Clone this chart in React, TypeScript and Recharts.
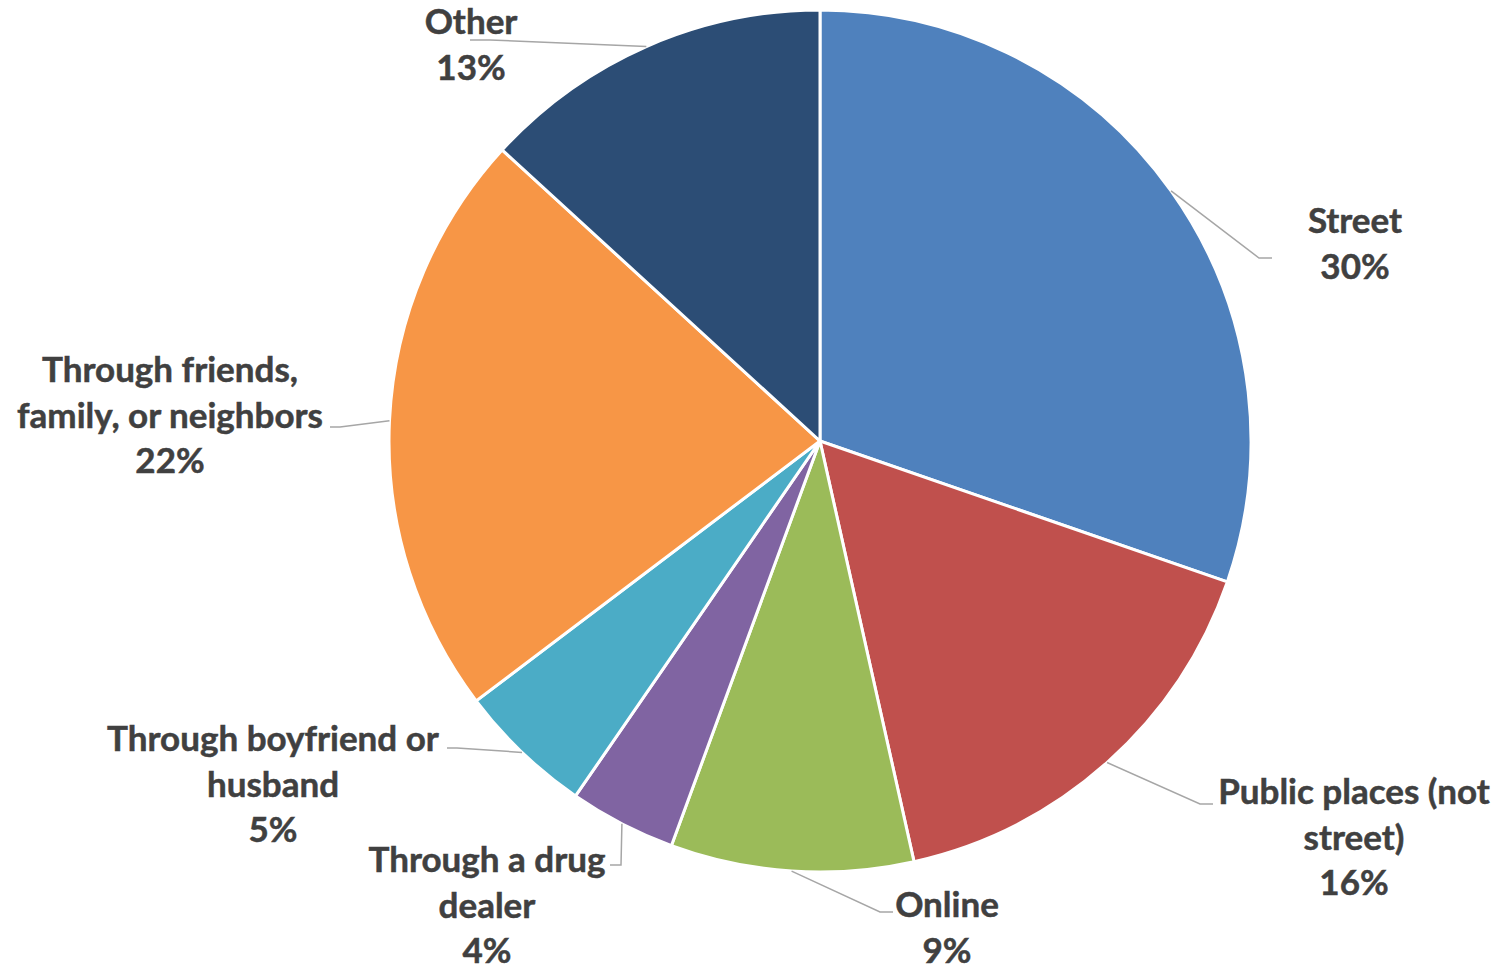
import React from "react";
import { PieChart, Pie, Cell } from "recharts";

const CATEGORIES = [
  "Street",
  "Public places (not street)",
  "Online",
  "Through a drug dealer",
  "Through boyfriend or husband",
  "Through friends, family, or neighbors",
  "Other",
];
const VALUES = [30.3, 16.2, 9.1, 4.0, 5.1, 22.1, 13.2];
const LABEL_LINES = [
  ["Street"],
  ["Public places (not", "street)"],
  ["Online"],
  ["Through a drug", "dealer"],
  ["Through boyfriend or", "husband"],
  ["Through friends,", "family, or neighbors"],
  ["Other"],
];
const COLORS = ["#4F81BD", "#C0504D", "#9BBB59", "#8064A2", "#4BACC6", "#F79646", "#2C4D75"];

// label layout relative to pie centre: elbow point, line end point, text centre x, first line y
const LABEL_LAYOUT = [
  { elbow: [439, -183], end: [452, -183], tx: 535, ty: -222 },
  { elbow: [380, 363], end: [393, 363], tx: 534, ty: 349 },
  { elbow: [60, 471], end: [73, 471], tx: 127, ty: 462 },
  { elbow: [-199, 424], end: [-210, 424], tx: -333, ty: 417 },
  { elbow: [-363, 307], end: [-373, 307], tx: -547, ty: 296 },
  { elbow: [-480, -14], end: [-490, -14], tx: -650, ty: -73 },
  { elbow: [-330, -401], end: [-350, -401], tx: -349, ty: -421 },
];

const data = CATEGORIES.map((name, i) => ({ name, value: VALUES[i] }));

const RAD = Math.PI / 180;
const LINE_H = 45.5;

const renderLabel = (props: any) => {
  const { cx, cy, midAngle, outerRadius, index, percent } = props;
  const lay = LABEL_LAYOUT[index];
  const sx = cx + outerRadius * Math.cos(-midAngle * RAD);
  const sy = cy + outerRadius * Math.sin(-midAngle * RAD);
  const ex = cx + lay.elbow[0];
  const ey = cy + lay.elbow[1];
  const fx = cx + lay.end[0];
  const fy = cy + lay.end[1];
  const lines = [...LABEL_LINES[index], `${Math.round(percent * 100)}%`];
  return (
    <g key={`lbl-${index}`}>
      <polyline
        points={`${sx},${sy} ${ex},${ey} ${fx},${fy}`}
        fill="none"
        stroke="#A6A6A6"
        strokeWidth={1.5}
      />
      <text
        x={cx + lay.tx}
        y={cy + lay.ty}
        textAnchor="middle"
        dominantBaseline="central"
        fill="#404040"
        stroke="#404040"
        strokeWidth={0.5}
        style={{ fontFamily: "Lato, 'Open Sans', sans-serif", fontWeight: 700, fontSize: 35 }}
      >
        {lines.map((l, j) => (
          <tspan key={j} x={cx + lay.tx} y={cy + lay.ty + j * LINE_H}>
            {l}
          </tspan>
        ))}
      </text>
    </g>
  );
};

export default function App() {
  return (
    <div style={{ position: "absolute", left: 0, top: 0, background: "#fff" }}>
      <PieChart width={1498} height={967} margin={{ top: 0, right: 0, bottom: 0, left: 0 }}>
        <Pie
          data={data}
          dataKey="value"
          nameKey="name"
          cx={820}
          cy={441}
          outerRadius={431}
          startAngle={90}
          endAngle={-270}
          stroke="#FFFFFF"
          strokeWidth={3}
          label={renderLabel}
          labelLine={false}
          isAnimationActive={false}
        >
          {data.map((d, i) => (
            <Cell key={d.name} fill={COLORS[i]} />
          ))}
        </Pie>
      </PieChart>
    </div>
  );
}
